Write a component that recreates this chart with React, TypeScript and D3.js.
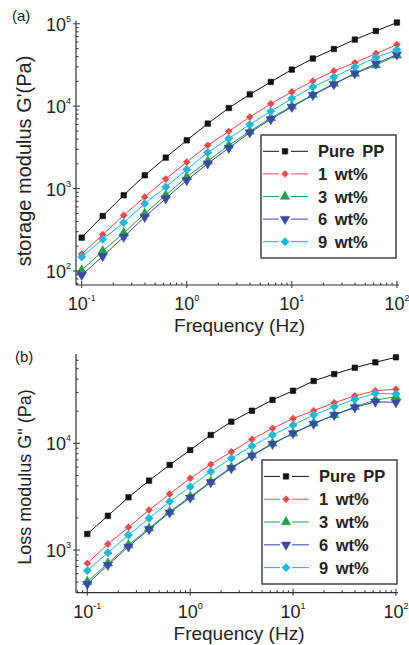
import React from "react";
import * as d3 from "d3";

const frequencies = [0.1, 0.1585, 0.2512, 0.3981, 0.631, 1, 1.585, 2.512, 3.981, 6.31, 10, 15.85, 25.12, 39.81, 63.1, 100];

const seriesNames = ["Pure PP", "1 wt%", "3 wt%", "6 wt%", "9 wt%"];
const seriesColors = ["#111111", "#f04848", "#22a048", "#3a48a8", "#1cb8d8"];
const seriesSymbols = ["square", "diamond", "triangleUp", "triangleDown", "diamondBig"];

// (a) storage modulus G'
const storagePure = [254, 465, 829, 1449, 2378, 3855, 6150, 9500, 13900, 19700, 27800, 37900, 49400, 64300, 81800, 103500];
const storage1 = [160, 277, 474, 790, 1309, 2100, 3350, 4950, 7390, 10700, 14900, 20200, 26700, 33800, 43500, 56000];
const storage3 = [102, 175, 289, 497, 829, 1383, 2150, 3350, 4950, 7190, 10000, 13800, 18800, 24900, 31400, 41500];
const storage6 = [89, 151, 259, 452, 757, 1262, 2010, 3110, 4790, 6930, 9770, 13600, 18400, 24900, 32900, 42300];
const storage9 = [148, 243, 386, 657, 1045, 1700, 2740, 4050, 5980, 8670, 12400, 17100, 22600, 29900, 38900, 48600];

// (b) loss modulus G"
const lossPure = [1413, 2094, 3119, 4470, 6270, 8650, 11970, 15950, 20200, 25500, 31100, 38400, 44600, 51100, 57400, 64000];
const loss1 = [750, 1138, 1634, 2370, 3350, 4700, 6350, 8340, 10900, 13800, 17100, 20200, 24000, 27800, 31100, 32100];
const loss3 = [505, 750, 1114, 1596, 2285, 3160, 4370, 5960, 7760, 10000, 12400, 15400, 18400, 22000, 25500, 27300];
const loss6 = [480, 723, 1075, 1563, 2240, 3090, 4310, 5830, 7650, 9840, 12400, 15200, 18400, 21700, 24500, 24200];
const loss9 = [640, 944, 1383, 1982, 2840, 3920, 5420, 7230, 9440, 11970, 14830, 18400, 22000, 25800, 29400, 29000];

const xTickExps = [-1, 0, 1, 2];
const yTickExpsA = [2, 3, 4, 5];
const yTickExpsB = [3, 4];

const FONT = "'Liberation Sans', Arial, Helvetica, sans-serif";

function symbolPath(kind: string): string {
  switch (kind) {
    case "square":
      return d3.symbol(d3.symbolSquare, 30)()!;
    case "diamond":
      return d3.symbol(d3.symbolSquare, 24)()!;
    case "triangleUp":
      return d3.symbol(d3.symbolTriangle, 38)()!;
    case "triangleDown":
      return d3.symbol(d3.symbolTriangle, 38)()!;
    case "diamondBig":
      return d3.symbol(d3.symbolSquare, 34)()!;
  }
  return d3.symbol(d3.symbolCircle, 30)()!;
}

function Marker({ x, y, kind, color }: { x: number; y: number; kind: string; color: string }) {
  let rot = "";
  if (kind === "triangleDown") rot = " rotate(180)";
  if (kind === "diamond" || kind === "diamondBig") rot = " rotate(45)";
  return <path d={symbolPath(kind)} transform={`translate(${x},${y})${rot}`} fill={color} stroke={color} strokeWidth={0.6} />;
}

function Panel(props: {
  label: string;
  yTitle: string;
  yTitleSize: number;
  series: number[][];
  xDomain: [number, number];
  xRange: [number, number];
  yDomain: [number, number];
  yRange: [number, number];
  yTickExps: number[];
  legendBox: [number, number, number, number];
  labelPos: [number, number];
  yTitlePos: [number, number];
}) {
  const x = d3.scaleLog().domain(props.xDomain).range(props.xRange);
  const y = d3.scaleLog().domain(props.yDomain).range(props.yRange);
  const x0 = props.xRange[0];
  const x1 = props.xRange[1];
  const yb = props.yRange[0];
  const yt = props.yRange[1];
  const line = d3
    .line<number>()
    .x((_, i) => x(frequencies[i]))
    .y((d) => y(d));

  const xMinor: number[] = [];
  for (let e = -2; e <= 2; e++) for (let m = 2; m <= 9; m++) {
    const v = m * Math.pow(10, e);
    if (v >= props.xDomain[0] && v <= props.xDomain[1]) xMinor.push(v);
  }
  const yMinor: number[] = [];
  for (let e = 1; e <= 5; e++) for (let m = 2; m <= 9; m++) {
    const v = m * Math.pow(10, e);
    if (v >= props.yDomain[0] && v <= props.yDomain[1]) yMinor.push(v);
  }
  const [lx, ly, lw, lh] = props.legendBox;
  const rowH = (lh - 10) / seriesNames.length;

  return (
    <g fontFamily={FONT}>
      {props.series.map((s, si) => (
        <g key={si}>
          <path d={line(s)!} fill="none" stroke={seriesColors[si]} strokeWidth={1} />
          {s.map((v, i) => (
            <Marker key={i} x={x(frequencies[i])} y={y(v)} kind={seriesSymbols[si]} color={seriesColors[si]} />
          ))}
        </g>
      ))}

      <line x1={x0} x2={x1} y1={yb} y2={yb} stroke="#333" strokeWidth={1.2} />
      <line x1={x0} x2={x0} y1={yb} y2={yt} stroke="#333" strokeWidth={1.2} />
      {xTickExps.map((e) => (
        <line key={"xt" + e} x1={x(Math.pow(10, e))} x2={x(Math.pow(10, e))} y1={yb - 4} y2={yb + 3} stroke="#333" strokeWidth={1} />
      ))}
      {xMinor.map((v, i) => (
        <line key={"xm" + i} x1={x(v)} x2={x(v)} y1={yb - 2.5} y2={yb} stroke="#333" strokeWidth={1} />
      ))}
      {props.yTickExps.map((e) => (
        <line key={"yt" + e} x1={x0 - 3} x2={x0 + 4} y1={y(Math.pow(10, e))} y2={y(Math.pow(10, e))} stroke="#333" strokeWidth={1} />
      ))}
      {yMinor.map((v, i) => (
        <line key={"ym" + i} x1={x0} x2={x0 + 2.5} y1={y(v)} y2={y(v)} stroke="#333" strokeWidth={1} />
      ))}

      {xTickExps.map((e) => (
        <text key={"xl" + e} x={x(Math.pow(10, e))} y={yb + 25} textAnchor="middle" fontSize={18} fill="#222">
          10<tspan dy={-9} fontSize={9}>{String(e)}</tspan>
        </text>
      ))}
      {props.yTickExps.map((e) => (
        <text key={"yl" + e} x={x0 - 5} y={y(Math.pow(10, e)) + 7} textAnchor="end" fontSize={18} fill="#222">
          10<tspan dy={-9} fontSize={9}>{String(e)}</tspan>
        </text>
      ))}

      <text x={(props.xRange[0] + props.xRange[1]) / 2 + 2} y={yb + 47} textAnchor="middle" fontSize={19} fill="#222">
        Frequency (Hz)
      </text>
      <text
        transform={`translate(${props.yTitlePos[0]},${props.yTitlePos[1]}) rotate(-90)`}
        textAnchor="middle"
        fontSize={props.yTitleSize}
        fill="#222"
      >
        {props.yTitle}
      </text>
      <text x={props.labelPos[0]} y={props.labelPos[1]} fontSize={15} fill="#222">
        {props.label}
      </text>

      <rect x={lx} y={ly} width={lw} height={lh} fill="#fff" stroke="#444" strokeWidth={1.5} />
      {seriesNames.map((n, si) => {
        const cy = ly + 5 + rowH * (si + 0.5);
        return (
          <g key={"lg" + si}>
            <line x1={lx + 2} x2={lx + 18} y1={cy} y2={cy} stroke={seriesColors[si]} strokeWidth={1} />
            <line x1={lx + 30} x2={lx + 47} y1={cy} y2={cy} stroke={seriesColors[si]} strokeWidth={1} />
            <Marker x={lx + 24} y={cy} kind={seriesSymbols[si]} color={seriesColors[si]} />
            <text x={lx + 57} y={cy + 6} fontSize={16.5} fontWeight="bold" fill="#222" style={{ wordSpacing: "3px" }}>
              {n}
            </text>
          </g>
        );
      })}
    </g>
  );
}

export default function App() {
  return (
    <svg width={409} height={645} style={{ position: "absolute", left: 0, top: 0, background: "#fff" }}>
      <rect x={0} y={0} width={409} height={645} fill="#fff" />
      <Panel
        label="(a)"
        yTitle="storage modulus G'(Pa)"
        yTitleSize={20}
        series={[storagePure, storage1, storage3, storage6, storage9]}
        xDomain={[Math.pow(10, -1.054), Math.pow(10, 2.02)]}
        xRange={[76, 399]}
        yDomain={[Math.pow(10, 1.83), Math.pow(10, 5.04)]}
        yRange={[285, 20.5]}
        yTickExps={yTickExpsA}
        legendBox={[261, 135, 135, 123]}
        labelPos={[12, 21]}
        yTitlePos={[31, 161]}
      />
      <Panel
        label="(b)"
        yTitle={'Loss modulus G" (Pa)'}
        yTitleSize={18}
        series={[lossPure, loss1, loss3, loss6, loss9]}
        xDomain={[Math.pow(10, -1.11), Math.pow(10, 2.02)]}
        xRange={[76, 398]}
        yDomain={[Math.pow(10, 2.6), Math.pow(10, 4.837)]}
        yRange={[592.7, 354]}
        yTickExps={yTickExpsB}
        legendBox={[262, 460, 135, 124]}
        labelPos={[15, 362]}
        yTitlePos={[31, 477]}
      />
    </svg>
  );
}
